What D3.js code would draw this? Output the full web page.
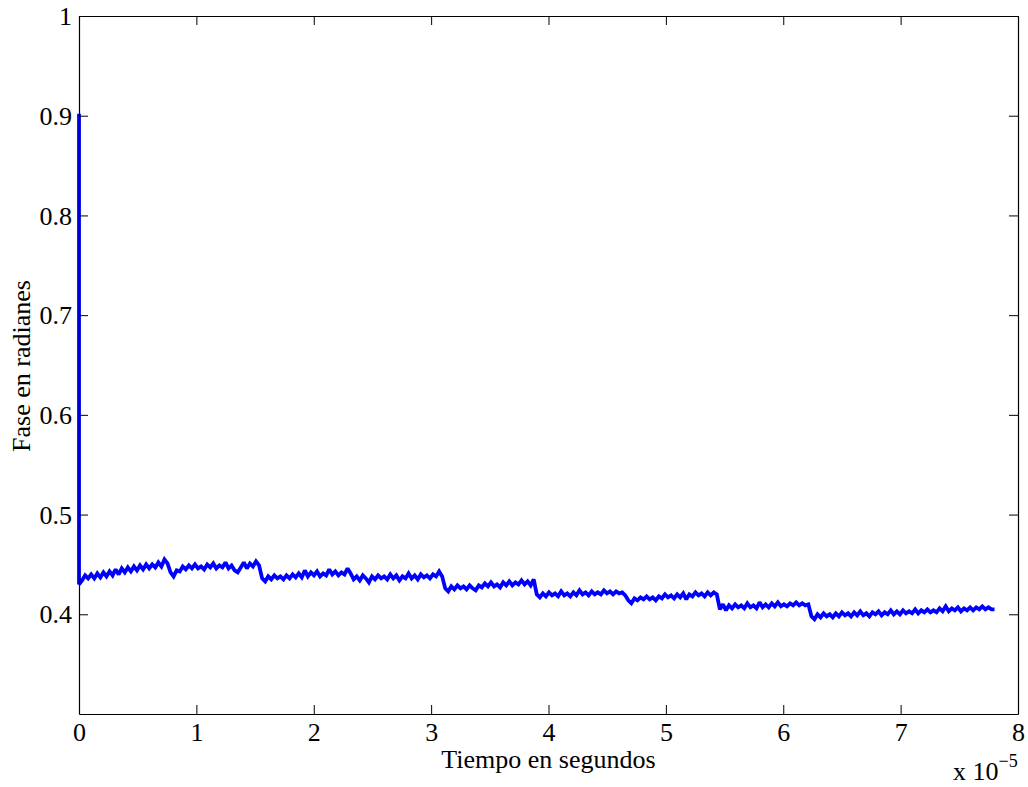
<!DOCTYPE html>
<html>
<head>
<meta charset="utf-8">
<script src="https://cdn.jsdelivr.net/npm/d3@7"></script>
<style>
  body { margin: 0; background: #fff; }
  svg { display: block; }
  text { font-family: "Liberation Serif", "Times New Roman", serif; fill: #000; }
</style>
</head>
<body>
<svg id="chart" width="1028" height="787"></svg>
<script>
// Axis ticks
const xTicks = [0, 1, 2, 3, 4, 5, 6, 7, 8];
const yTicks = [0.4, 0.5, 0.6, 0.7, 0.8, 0.9, 1];

// Initial phase value at t = 0 (before the loop locks)
const faseInicial = 0.902;

// Sampling step of the phase record, in units of 1e-5 s
const pasoMuestreo = 0.026;

// Phase in radians, one sample every pasoMuestreo (starting at t = 0)
const fase = [
  // 0 – 0.78
  0.430, 0.434, 0.439, 0.436, 0.440, 0.436, 0.441, 0.437, 0.442, 0.438,
  0.443, 0.439, 0.445, 0.440, 0.446, 0.442, 0.447, 0.443, 0.448, 0.444,
  0.449, 0.445, 0.450, 0.446, 0.450, 0.447, 0.452, 0.448, 0.455, 0.451,
  // 0.78 – 1.56
  0.442, 0.438, 0.444, 0.443, 0.448, 0.445, 0.449, 0.446, 0.450, 0.446,
  0.448, 0.445, 0.450, 0.447, 0.451, 0.446, 0.449, 0.447, 0.452, 0.446,
  0.449, 0.444, 0.442, 0.447, 0.452, 0.446, 0.451, 0.448, 0.453, 0.449,
  // 1.56 – 2.34
  0.436, 0.433, 0.438, 0.435, 0.439, 0.436, 0.438, 0.435, 0.439, 0.436,
  0.440, 0.437, 0.441, 0.437, 0.444, 0.438, 0.442, 0.439, 0.443, 0.438,
  0.441, 0.439, 0.445, 0.440, 0.443, 0.439, 0.442, 0.440, 0.446, 0.441,
  // 2.34 – 3.12
  0.435, 0.438, 0.434, 0.439, 0.436, 0.432, 0.438, 0.435, 0.439, 0.436,
  0.438, 0.435, 0.440, 0.436, 0.439, 0.434, 0.438, 0.436, 0.441, 0.436,
  0.439, 0.435, 0.440, 0.437, 0.439, 0.436, 0.440, 0.438, 0.443, 0.438,
  // 3.12 – 3.90
  0.426, 0.423, 0.428, 0.425, 0.429, 0.426, 0.428, 0.425, 0.429, 0.426,
  0.424, 0.429, 0.427, 0.431, 0.428, 0.432, 0.428, 0.430, 0.427, 0.432,
  0.429, 0.433, 0.429, 0.432, 0.430, 0.434, 0.430, 0.433, 0.429, 0.435,
  // 3.90 – 4.68
  0.420, 0.417, 0.421, 0.418, 0.422, 0.419, 0.421, 0.418, 0.423, 0.419,
  0.421, 0.418, 0.422, 0.419, 0.424, 0.420, 0.422, 0.419, 0.423, 0.420,
  0.422, 0.420, 0.424, 0.421, 0.423, 0.420, 0.423, 0.421, 0.422, 0.419,
  // 4.68 – 5.46
  0.414, 0.411, 0.416, 0.414, 0.417, 0.415, 0.418, 0.415, 0.417, 0.414,
  0.418, 0.416, 0.420, 0.417, 0.419, 0.416, 0.420, 0.417, 0.421, 0.415,
  0.420, 0.418, 0.422, 0.419, 0.421, 0.418, 0.422, 0.419, 0.422, 0.420,
  // 5.46 – 6.24
  0.405, 0.410, 0.404, 0.409, 0.406, 0.410, 0.407, 0.409, 0.406, 0.411,
  0.407, 0.409, 0.406, 0.412, 0.407, 0.410, 0.407, 0.411, 0.408, 0.412,
  0.408, 0.410, 0.408, 0.411, 0.409, 0.412, 0.409, 0.411, 0.409, 0.410,
  // 6.24 – 7.80
  0.398, 0.395, 0.400, 0.397, 0.401, 0.398, 0.400, 0.397, 0.401, 0.398,
  0.402, 0.399, 0.401, 0.398, 0.402, 0.399, 0.403, 0.399, 0.401, 0.398,
  0.402, 0.400, 0.403, 0.399, 0.402, 0.400, 0.404, 0.400, 0.403, 0.400,
  0.404, 0.401, 0.403, 0.401, 0.405, 0.401, 0.404, 0.402, 0.405, 0.402,
  0.404, 0.402, 0.406, 0.403, 0.408, 0.403, 0.406, 0.404, 0.407, 0.403,
  0.406, 0.404, 0.407, 0.404, 0.407, 0.405, 0.408, 0.405, 0.407, 0.405,
  0.405
];

const svg = d3.select("#chart");
const plotLeft = 79, plotRight = 1018, plotTop = 16, plotBottom = 714;
const fontSize = 26;

const x = d3.scaleLinear().domain([0, 8]).range([plotLeft, plotRight]);
const y = d3.scaleLinear().domain([0.3, 1]).range([plotBottom, plotTop]);

// Trace: initial value at t = 0, then the sampled record
const puntos = [[0, faseInicial]].concat(fase.map((v, i) => [i * pasoMuestreo, v]));

svg.append("path")
  .datum(puntos)
  .attr("fill", "none")
  .attr("stroke", "#0000ff")
  .attr("stroke-width", 3.8)
  .attr("stroke-linejoin", "miter")
  .attr("stroke-miterlimit", 2)
  .attr("d", d3.line().x(d => x(d[0])).y(d => y(d[1])));

// Axes: ticks point inward on all four sides
const tickLen = 9;

const gBottom = svg.append("g").attr("transform", `translate(0,${plotBottom})`)
  .call(d3.axisBottom(x).tickValues(xTicks).tickSizeInner(-tickLen).tickSizeOuter(0).tickPadding(9));
const gLeft = svg.append("g").attr("transform", `translate(${plotLeft},0)`)
  .call(d3.axisLeft(y).tickValues(yTicks).tickFormat(d3.format("")).tickSizeInner(-tickLen).tickSizeOuter(0).tickPadding(7));
const gTop = svg.append("g").attr("transform", `translate(0,${plotTop})`)
  .call(d3.axisTop(x).tickValues(xTicks).tickFormat("").tickSizeInner(-tickLen).tickSizeOuter(0));
const gRight = svg.append("g").attr("transform", `translate(${plotRight},0)`)
  .call(d3.axisRight(y).tickValues(yTicks).tickFormat("").tickSizeInner(-tickLen).tickSizeOuter(0));

[gBottom, gLeft, gTop, gRight].forEach(g => {
  g.selectAll("path.domain").attr("stroke", "#000").attr("stroke-width", 1.2);
  g.selectAll(".tick line").attr("stroke", "#000").attr("stroke-width", 1);
  g.selectAll(".tick text")
    .style("font-family", "'Liberation Serif', 'Times New Roman', serif")
    .style("font-size", fontSize + "px")
    .attr("fill", "#000");
});
gLeft.selectAll(".tick text").attr("dy", "0.33em");

// Axis titles
svg.append("text")
  .attr("x", (plotLeft + plotRight) / 2).attr("y", 768)
  .attr("text-anchor", "middle")
  .style("font-size", fontSize + "px")
  .text("Tiempo en segundos");

svg.append("text")
  .attr("transform", "translate(30,366) rotate(-90)")
  .attr("text-anchor", "middle")
  .style("font-size", fontSize + "px")
  .text("Fase en radianes");

// Scale factor of the time axis
const factor = svg.append("text")
  .attr("x", 953).attr("y", 780)
  .style("font-size", fontSize + "px");
factor.append("tspan").text("x 10");
factor.append("tspan")
  .attr("dy", -13)
  .style("font-size", "18px")
  .text("\u22125");
</script>
</body>
</html>
